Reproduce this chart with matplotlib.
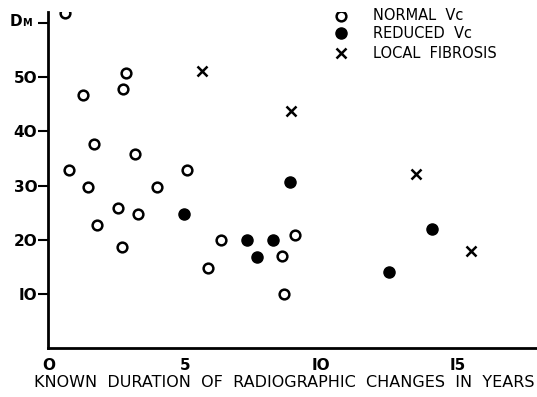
import matplotlib
matplotlib.use("Agg")
import matplotlib.pyplot as plt

# normal Vc (open circles)
normal_x = [0.6, 1.26, 2.83, 2.74, 1.67, 3.17, 0.76, 5.06, 1.46, 3.99,
            1.79, 2.56, 3.29, 2.68, 5.83, 6.31, 8.54, 8.63, 9.03]
normal_y = [61.9, 46.7, 50.8, 47.8, 37.6, 35.8, 32.8, 32.8, 29.7, 29.7,
            22.7, 25.8, 24.8, 18.7, 14.8, 20.0, 17.0, 10.0, 20.8]
# reduced Vc (filled circles)
reduced_x = [4.97, 7.28, 7.65, 8.23, 8.85, 14.07, 12.47]
reduced_y = [24.8, 19.9, 16.8, 19.9, 30.7, 22.0, 14.1]
# local fibrosis (crosses)
fibrosis_x = [5.63, 8.88, 13.45, 15.48]
fibrosis_y = [51.2, 43.8, 32.2, 18.0]

xticks = [0, 5, 10, 15]
xticklabels = ["O", "5", "IO", "I5"]
yticks = [10, 20, 30, 40, 50, 60]
yticklabels = ["IO", "2O", "3O", "4O", "5O", ""]

plt.rcParams['font.family'] = ['DejaVu Sans']

fig = plt.figure(figsize=(5.37, 3.97), dpi=100)
ax = fig.add_axes([0.0903, 0.1227, 0.9097, 0.847])

ax.plot(normal_x, normal_y, 'o', mfc='white', mec='black', mew=1.8, ms=7, ls='none')
ax.plot(reduced_x, reduced_y, 'o', mfc='black', mec='black', ms=8, ls='none')
ax.plot(fibrosis_x, fibrosis_y, 'x', color='black', mew=1.8, ms=7.5, ls='none')

ax.set_xlim(0, 17.9)
ax.set_ylim(0, 62)
ax.spines['top'].set_visible(False)
ax.spines['right'].set_visible(False)
ax.spines['left'].set_linewidth(2)
ax.spines['bottom'].set_linewidth(2)

ax.set_xticks(xticks)
ax.set_xticklabels(xticklabels, fontsize=11, fontweight='semibold')
ax.tick_params(axis='x', length=0, pad=7)
ax.set_yticks(yticks)
ax.set_yticklabels(yticklabels, fontsize=11, fontweight='semibold')
ax.tick_params(axis='y', length=7, width=1.5, pad=1)

ax.text(-1.2, 60.3, "D", fontsize=11, fontweight='bold', ha='center', va='center')
ax.text(-0.8, 60.0, "M", fontsize=7, fontweight='bold', ha='center', va='center')

ax.set_xlabel("KNOWN  DURATION  OF  RADIOGRAPHIC  CHANGES  IN  YEARS",
              fontsize=11.5)
ax.xaxis.set_label_coords(0.482, -0.08)

# legend
lx, tx = 10.7, 11.9
ax.plot([lx], [61.3], 'o', mfc='white', mec='black', mew=1.8, ms=7)
ax.plot([lx], [58.1], 'o', mfc='black', mec='black', ms=8)
ax.plot([lx], [54.4], 'x', color='black', mew=1.8, ms=7.5)
ax.text(tx, 61.3, "NORMAL  Vc", fontsize=10.5, va='center')
ax.text(tx, 58.1, "REDUCED  Vc", fontsize=10.5, va='center')
ax.text(tx, 54.4, "LOCAL  FIBROSIS", fontsize=10.5, va='center')

fig.savefig("out.png", dpi=100)
